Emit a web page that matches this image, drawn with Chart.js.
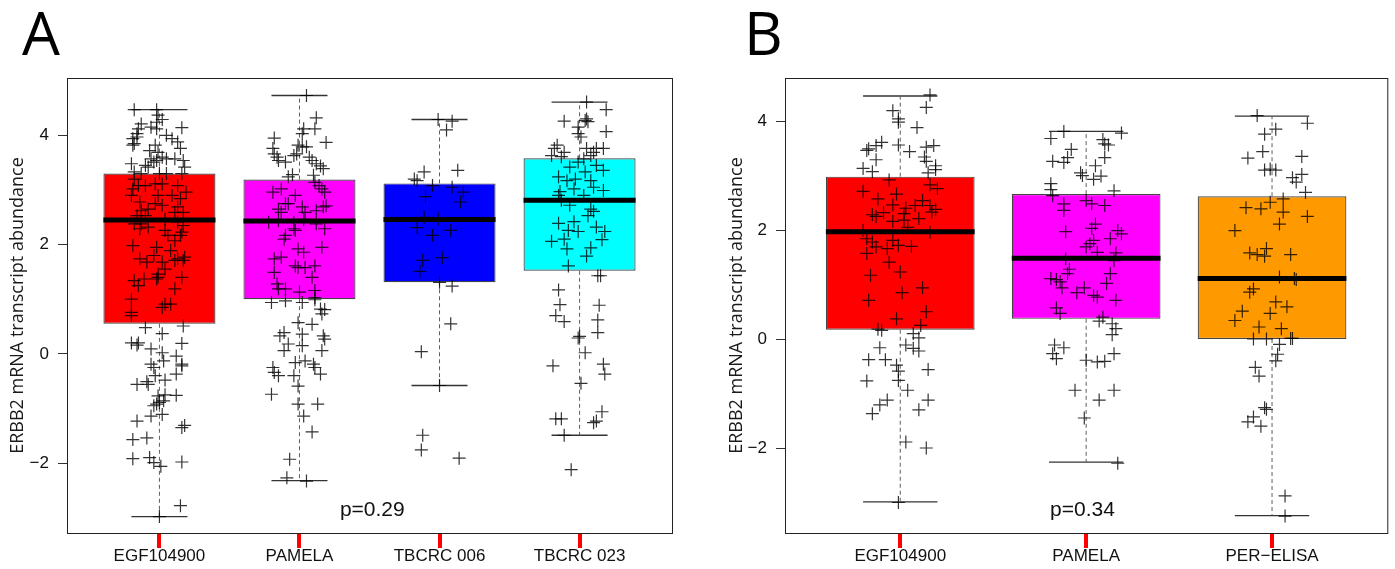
<!DOCTYPE html>
<html>
<head>
<meta charset="utf-8">
<title>ERBB2 boxplots</title>
<script src="https://cdn.jsdelivr.net/npm/chart.js@4.4.0/dist/chart.umd.min.js"></script>
<style>
  body { margin: 0; background: #fff; }
  #wrap { position: relative; width: 1395px; height: 569px; overflow: hidden; }
  #chartA { position: absolute; left: 0; top: 0; }
  #chartB { position: absolute; left: 700px; top: 0; }
</style>
</head>
<body>
<div id="wrap">
  <canvas id="chartA" width="700" height="569"></canvas>
  <canvas id="chartB" width="695" height="569"></canvas>
</div>
<script>
// ==== data ====
const catsA = ['EGF104900', 'PAMELA', 'TBCRC 006', 'TBCRC 023'];
const catsB = ['EGF104900', 'PAMELA', 'PER\u2212ELISA'];
const yTicks = [-2, 0, 2, 4];

// box stats (lower whisker, q1, median, q3, upper whisker)
const loA = [-2.98, -2.32, -0.58, -1.49];
const q1A = [0.55, 1.00, 1.31, 1.52];
const medA = [2.45, 2.43, 2.46, 2.81];
const q3A = [3.30, 3.19, 3.12, 3.58];
const hiA = [4.47, 4.73, 4.29, 4.61];

const loB = [-2.98, -2.25, -3.23];
const q1B = [0.18, 0.38, 0.01];
const medB = [1.98, 1.49, 1.12];
const q3B = [2.99, 2.67, 2.63];
const hiB = [4.47, 3.82, 4.10];

// jittered samples: [jitter, value]
const egfA = [
  [-0.18,4.47],[-0.02,4.47],[-0.01,4.37],[0.02,4.29],[-0.02,4.24],[-0.13,4.21],[-0.15,4.12],[-0.16,4.03],[-0.16,3.97],[-0.19,3.94],
  [-0.18,3.85],[-0.19,3.82],[-0.06,4.15],[-0.02,4.12],[0.16,4.14],[0.05,4.00],[0.09,3.94],[0.13,3.88],[0.15,3.76],[-0.03,3.82],
  [-0.07,3.72],[-0.01,3.69],[-0.20,3.48],[-0.06,3.57],[-0.04,3.51],[-0.02,3.54],[0.02,3.60],[0.05,3.57],[0.11,3.57],[-0.10,3.45],
  [-0.08,3.42],[0.17,3.54],[0.18,3.42],[0.16,3.30],[-0.18,3.33],[-0.13,3.30],[0.00,3.30],[0.05,3.30],
  [-0.18,3.20],[-0.15,3.08],[-0.19,3.02],[-0.20,2.90],[-0.10,3.08],[-0.03,3.11],[0.02,3.11],[0.13,3.08],[0.19,2.96],[0.09,2.90],
  [-0.01,2.90],[0.15,2.84],[-0.14,2.78],[-0.03,2.75],[0.02,2.72],[0.13,2.69],[-0.08,2.65],[-0.13,2.62],[0.17,2.59],[0.11,2.59],
  [-0.16,2.53],[-0.10,2.53],[0.04,2.47],[-0.18,2.38],[-0.13,2.38],[-0.14,2.29],[-0.08,2.32],[0.04,2.26],[0.13,2.41],[0.17,2.35],
  [0.15,2.17],[0.16,2.23],[0.11,2.07],[0.06,2.17],[-0.19,1.98],[-0.02,1.95],[0.08,1.89],[0.18,1.77],[0.17,1.71],[-0.14,1.74],
  [-0.09,1.68],[0.02,1.68],[0.11,1.71],[0.13,1.74],[0.04,1.55],[-0.01,1.46],[-0.04,1.80],[-0.18,1.34],[-0.11,1.37],[-0.15,1.25],
  [-0.02,1.37],[-0.01,1.40],[0.16,1.40],[0.11,1.19],[-0.20,1.00],[0.04,0.91],[0.08,0.91],[-0.20,0.76],
  [-0.20,0.70],[0.02,0.85],[-0.10,0.48],[0.17,0.51],[0.02,0.37],[-0.20,0.20],[-0.15,0.20],[-0.16,0.16],[-0.06,0.09],[0.16,0.19],
  [0.02,0.02],[0.12,-0.04],[0.03,-0.13],[-0.06,-0.19],[-0.04,-0.25],[0.16,-0.19],[0.16,-0.22],[0.12,-0.37],[-0.03,-0.40],[0.04,-0.48],
  [-0.16,-0.56],[-0.08,-0.56],[-0.09,-0.51],[0.12,-0.76],[-0.01,-0.77],[0.04,-0.75],[-0.04,-0.95],[-0.02,-0.92],[0.00,-0.89],[0.03,-0.86],
  [-0.06,-1.14],[0.02,-1.11],[-0.16,-1.23],[0.16,-1.35],[0.18,-1.31],[-0.19,-1.57],[-0.09,-1.54],[-0.19,-1.92],[-0.07,-1.90],[-0.04,-1.99],
  [0.01,-2.06],[0.16,-1.98],[0.15,-2.78],[0.00,-2.98]
];
const pamA = [
  [0.05,4.73],[0.12,4.32],[0.11,4.12],[0.03,4.12],[0.02,4.03],[-0.18,3.95],[0.19,3.87],[-0.01,3.82],[0.02,3.79],[0.05,3.79],
  [-0.19,3.76],[-0.18,3.66],[-0.16,3.60],[-0.15,3.54],[-0.10,3.51],[-0.04,3.63],[-0.02,3.66],[0.07,3.60],[0.09,3.54],[0.12,3.48],
  [0.15,3.44],[0.17,3.39],[-0.05,3.28],[-0.08,3.24],[0.10,3.27],[0.11,3.14],[0.14,3.08],[0.16,3.02],[0.18,2.96],[-0.19,2.96],
  [-0.13,3.02],[-0.03,2.90],[-0.10,2.75],[-0.08,2.75],[-0.15,2.65],[-0.13,2.59],[0.02,2.69],[0.04,2.59],[0.12,2.62],[0.17,2.69],
  [0.19,2.71],[-0.22,2.41],[-0.15,2.44],[-0.04,2.41],[0.03,2.46],[-0.03,2.26],[-0.10,2.17],[-0.11,2.10],[-0.04,2.29],[0.12,2.38],
  [0.18,2.29],[-0.01,1.92],[0.03,1.86],[0.16,1.95],[-0.13,1.77],[-0.18,1.74],[-0.03,1.61],[-0.01,1.58],[0.04,1.58],[0.11,1.61],
  [-0.18,1.49],[0.09,1.40],[-0.16,1.28],[-0.15,1.19],[-0.10,1.19],[0.00,1.13],[0.11,1.16],[0.11,1.03],[-0.20,0.94],[-0.10,0.97],
  [0.02,0.94],[0.11,0.99],[0.15,0.82],[0.18,0.81],[0.16,0.73],[-0.01,0.57],[0.09,0.54],[-0.11,0.39],[-0.14,0.33],[0.02,0.36],
  [0.17,0.33],[0.18,0.27],[-0.08,0.18],[-0.11,0.06],[0.02,0.15],[0.16,0.06],[-0.03,-0.16],[0.04,-0.13],[0.10,-0.19],[0.11,-0.25],
  [-0.19,-0.25],[-0.18,-0.34],[-0.15,-0.40],[-0.04,-0.40],[0.15,-0.37],[-0.01,-0.59],[-0.20,-0.74],[-0.01,-0.92],[0.13,-0.92],[0.03,-1.14],
  [0.09,-1.43],[-0.07,-1.93],[-0.09,-2.27],[0.05,-2.33]
];
const t006A = [
  [-0.01,4.29],[0.09,4.26],[0.05,4.10],[-0.11,3.33],[0.13,3.36],[-0.18,3.20],[-0.16,3.17],[-0.05,3.08],[0.09,3.05],[0.17,2.96],
  [-0.10,2.88],[0.15,2.78],[-0.11,2.50],[-0.01,2.47],[-0.16,2.31],[0.08,2.26],[-0.05,2.17],[0.02,1.76],[-0.12,1.71],[-0.14,1.51],
  [0.00,1.31],[0.09,1.24],[0.08,0.55],[-0.13,0.04],[0.00,-0.58],[-0.12,-1.49],[-0.13,-1.76],[0.14,-1.91]
];
const t023A = [
  [0.05,4.61],[0.19,4.47],[-0.11,4.26],[0.05,4.30],[0.04,4.27],[0.06,4.25],[-0.01,4.15],[0.19,4.07],[-0.01,4.03],[0.01,3.97],
  [-0.16,3.82],[-0.18,3.76],[-0.20,3.63],[-0.11,3.69],[-0.13,3.61],[0.05,3.76],[0.12,3.76],[0.17,3.76],[0.10,3.69],[0.08,3.63],
  [0.03,3.57],[-0.01,3.51],[-0.07,3.42],[0.12,3.45],[0.17,3.36],[-0.15,3.24],[-0.09,3.17],[-0.03,3.20],[0.04,3.33],[0.08,3.17],
  [-0.14,2.97],[-0.04,3.02],[0.10,3.05],[0.17,2.99],[-0.15,2.90],[-0.13,2.81],[-0.07,2.72],[0.03,2.90],[0.08,2.65],[0.10,2.61],
  [0.06,2.53],[-0.15,2.39],[-0.04,2.42],[0.12,2.32],[0.18,2.24],[-0.08,2.26],[-0.01,2.24],[-0.11,2.10],[-0.20,2.06],[0.16,2.09],
  [-0.09,1.92],[0.08,1.94],[0.05,1.79],[-0.08,1.61],[0.13,1.43],[0.15,1.43],[-0.15,1.17],[-0.14,0.90],[-0.17,0.70],[-0.11,0.59],
  [0.14,0.89],[0.13,0.62],[0.13,0.39],[-0.01,0.29],[0.00,0.32],[0.04,0.02],[-0.19,-0.22],[0.17,-0.19],[0.18,-0.37],[0.01,-0.54],
  [-0.17,-1.19],[-0.13,-1.19],[0.16,-1.06],[0.12,-1.23],[0.10,-1.26],[-0.11,-1.49],[-0.06,-2.12]
];

const egfB = [
  [0.16,4.49],[0.14,4.26],[-0.04,4.20],[-0.01,4.05],[-0.01,3.99],[0.09,3.89],[-0.10,3.62],[-0.13,3.56],[-0.17,3.50],[-0.18,3.47],
  [-0.01,3.57],[0.05,3.45],[0.14,3.53],[0.18,3.56],[-0.13,3.30],[0.13,3.35],[0.14,3.27],[-0.20,3.14],[-0.15,3.08],[0.19,3.19],
  [0.19,3.12],[0.15,3.06],[-0.06,2.93],[0.16,2.84],[0.20,2.77],[-0.20,2.72],[-0.02,2.67],[-0.12,2.58],[0.12,2.55],[-0.04,2.47],
  [0.03,2.41],[0.08,2.46],[0.16,2.46],[0.19,2.39],[0.17,2.34],[-0.09,2.33],[-0.15,2.29],[-0.13,2.26],[0.02,2.31],[0.10,2.22],
  [-0.04,2.17],[0.02,2.19],[0.04,2.06],[-0.20,2.00],[0.16,1.97],[-0.18,1.85],[-0.15,1.79],[-0.04,1.82],[-0.01,1.73],[-0.13,1.70],
  [0.06,1.71],[-0.07,1.67],[-0.18,1.58],[-0.06,1.42],[-0.16,1.18],[0.00,1.24],[0.12,0.95],[0.01,0.86],[-0.17,0.72],[0.14,0.51],
  [-0.02,0.38],[0.11,0.26],[-0.12,0.19],[-0.10,0.17],[0.07,0.11],[0.10,0.03],[0.03,-0.10],[0.07,-0.16],[0.10,-0.21],[-0.11,-0.15],
  [-0.17,-0.37],[-0.08,-0.37],[-0.02,-0.47],[-0.01,-0.58],[0.15,-0.55],[-0.18,-0.76],[-0.01,-0.75],[0.04,-0.93],[-0.07,-1.11],[-0.11,-1.20],
  [-0.15,-1.36],[0.15,-1.11],[0.10,-1.29],[0.03,-1.88],[0.14,-1.99],[-0.01,-2.99]
];
const pamB = [
  [-0.12,3.82],[0.19,3.79],[-0.19,3.69],[0.09,3.67],[0.10,3.59],[0.12,3.57],[-0.08,3.49],[-0.10,3.34],[-0.12,3.25],[-0.18,3.27],
  [0.10,3.34],[0.05,3.19],[-0.03,3.06],[-0.02,3.01],[0.04,2.94],[0.08,3.00],[-0.19,2.86],[-0.19,2.75],[-0.18,2.64],[0.15,2.73],
  [0.00,2.55],[0.03,2.49],[-0.12,2.49],[-0.12,2.37],[0.10,2.46],[0.05,2.12],[0.03,2.04],[-0.11,1.98],[0.17,2.00],[0.19,1.94],
  [0.13,1.85],[0.04,1.82],[0.02,1.76],[0.00,1.70],[0.06,1.60],[0.16,1.59],[-0.11,1.48],[0.15,1.45],[-0.09,1.29],[-0.10,1.21],
  [0.13,1.21],[0.11,1.03],[-0.19,1.12],[-0.16,1.10],[-0.14,1.06],[-0.13,0.95],[-0.01,0.95],[-0.05,0.86],[0.04,0.81],[0.06,0.78],
  [0.16,0.72],[-0.16,0.58],[-0.14,0.48],[0.09,0.41],[0.07,0.34],[0.14,0.29],[0.16,0.20],[0.14,0.09],[-0.17,-0.10],[-0.12,-0.15],
  [-0.18,-0.26],[-0.16,-0.35],[0.15,-0.26],[0.00,-0.38],[0.06,-0.41],[0.10,-0.40],[-0.06,-0.93],[0.15,-0.93],[0.07,-1.11],[-0.01,-1.44],
  [0.17,-2.27]
];
const perB = [
  [-0.08,4.11],[0.19,3.97],[0.02,3.86],[-0.04,3.77],[-0.05,3.45],[-0.13,3.33],[0.16,3.36],[-0.04,3.11],[-0.01,3.13],[0.02,3.11],
  [0.11,2.97],[0.13,2.89],[0.16,3.03],[0.18,2.70],[0.06,2.58],[-0.01,2.52],[-0.14,2.42],[-0.06,2.40],[0.06,2.34],[0.19,2.26],
  [0.04,2.12],[-0.20,2.00],[-0.03,1.67],[-0.12,1.59],[-0.08,1.56],[-0.04,1.53],[0.10,1.56],[0.04,1.15],[0.12,1.12],[0.13,1.10],
  [-0.10,0.93],[-0.12,0.87],[0.02,0.69],[0.08,0.60],[-0.16,0.52],[-0.01,0.48],[-0.20,0.35],[-0.07,0.23],[0.05,0.20],[-0.10,0.01],
  [-0.03,0.01],[0.10,0.02],[0.11,0.02],[0.04,-0.09],[0.03,-0.27],[0.02,-0.39],[-0.09,-0.51],[-0.07,-0.67],[-0.04,-1.25],[-0.03,-1.28],
  [-0.10,-1.42],[-0.13,-1.51],[-0.06,-1.59],[0.07,-2.87],[0.07,-3.24]
];

// ==== helpers ====
const fillA = ['#FF0000', '#FF00FF', '#0000FF', '#00FFFF'];
const fillB = ['#FF0000', '#FF00FF', '#FF9900'];

function segment(p1, p2, color, width, dash, order) {
    return {
        type: 'scatter',
        showLine: true,
        data: [{ x: p1[0], y: p1[1] }, { x: p2[0], y: p2[1] }],
        borderColor: color,
        borderWidth: width,
        borderDash: dash,
        borderCapStyle: 'butt',
        pointRadius: 0,
        order: order
    };
}

function buildDatasets(cats, lo, q1, med, q3, hi, groups, fills) {
    const sets = [];

    cats.forEach((c, i) => {
        const x = i + 1;
        // dashed whiskers + caps
        sets.push(segment([x, q3[i]], [x, hi[i]], '#5e5e5e', 1, [4, 3], 4));
        sets.push(segment([x, q1[i]], [x, lo[i]], '#5e5e5e', 1, [4, 3], 4));
        sets.push(segment([x - 0.2, hi[i]], [x + 0.2, hi[i]], '#333', 1.3, [], 4));
        sets.push(segment([x - 0.2, lo[i]], [x + 0.2, lo[i]], '#333', 1.3, [], 4));
        // median
        sets.push(segment([x - 0.4, med[i]], [x + 0.4, med[i]], '#000', 5, [], 1));
    });

    sets.push({
        type: 'bar',
        data: cats.map((c, i) => ({ x: i + 1, y: [q1[i], q3[i]] })),
        backgroundColor: fills,
        borderColor: '#444',
        borderWidth: 1.2,
        borderSkipped: false,
        barPercentage: 0.8,
        categoryPercentage: 1,
        order: 3
    });

    const pts = [];
    groups.forEach((g, i) => {
        g.forEach(p => pts.push({ x: i + 1 + p[0], y: p[1] }));
    });
    sets.push({
        type: 'scatter',
        data: pts,
        pointStyle: 'cross',
        pointRadius: 6.5,
        borderColor: 'rgba(0,0,0,0.8)',
        pointBorderColor: 'rgba(0,0,0,0.8)',
        pointBorderWidth: 1.2,
        order: 0
    });
    return sets;
}

const panelText = {
    id: 'panelText',
    afterDraw(chart, args, opts) {
        const ctx = chart.ctx;
        const area = chart.chartArea;
        const xs = chart.scales.x;
        const ys = chart.scales.y;

        ctx.save();
        ctx.setLineDash([]);
        // frame
        ctx.strokeStyle = '#222';
        ctx.lineWidth = 1;
        ctx.strokeRect(area.left + 0.5, area.top + 0.5, area.right - area.left, area.bottom - area.top);

        // x tick marks under each box, taken from the bar dataset
        const boxes = chart.data.datasets.find(d => d.type === 'bar');
        ctx.fillStyle = '#ff0000';
        boxes.data.forEach(d => {
            const px = Math.round(xs.getPixelForValue(d.x));
            ctx.fillRect(px - 2, area.bottom + 1, 4, 14);
        });

        // panel letter
        ctx.fillStyle = '#000';
        ctx.font = '60px "Open Sans"';
        ctx.textAlign = 'left';
        ctx.textBaseline = 'alphabetic';
        ctx.fillText(opts.letter, opts.letterX, 55);

        // p value
        ctx.fillStyle = '#111';
        ctx.font = '21px "Liberation Sans"';
        ctx.textAlign = 'center';
        ctx.textBaseline = 'middle';
        ctx.fillText(opts.pText, xs.getPixelForValue(opts.pX), ys.getPixelForValue(opts.pY));

        // y axis title
        ctx.translate(opts.titleX, (area.top + area.bottom) / 2);
        ctx.rotate(-Math.PI / 2);
        ctx.font = '18px "Open Sans"';
        ctx.fillStyle = '#1a1a1a';
        ctx.fillText('ERBB2 mRNA transcript abundance', 0, 0);
        ctx.restore();
    }
};

function makeChart(id, o) {
    const tickFont = { family: 'Liberation Sans', size: 17 };
    return new Chart(document.getElementById(id), {
        type: 'bar',
        data: { datasets: buildDatasets(o.cats, o.lo, o.q1, o.med, o.q3, o.hi, o.groups, o.fills) },
        options: {
            responsive: false,
            animation: false,
            events: [],
            layout: { padding: { top: 78, right: o.padRight, left: 0, bottom: 0 } },
            plugins: {
                legend: { display: false },
                tooltip: { enabled: false },
                panelText: o.text
            },
            scales: {
                x: {
                    type: 'linear',
                    min: 0.5 - o.cats.length * 0.04,
                    max: o.cats.length + 0.5 + o.cats.length * 0.04,
                    offset: false,
                    border: { display: false },
                    grid: { display: false, tickLength: 9 },
                    ticks: {
                        font: tickFont, color: '#111', padding: 4,
                        autoSkip: false, maxRotation: 0,
                        callback: (v, i) => o.cats[i]
                    },
                    afterBuildTicks: s => { s.ticks = o.cats.map((c, i) => ({ value: i + 1 })); },
                    afterFit: s => { s.height = 36; }
                },
                y: {
                    min: o.yMin,
                    max: o.yMax,
                    border: { display: false },
                    grid: { offset: false, drawOnChartArea: false, drawTicks: true, tickLength: 9, color: '#333' },
                    ticks: {
                        font: tickFont, color: '#111', padding: 9,
                        callback: v => (v < 0 ? '\u2212' + Math.abs(v) : String(v))
                    },
                    afterBuildTicks: s => { s.ticks = yTicks.map(v => ({ value: v })); },
                    afterFit: s => { s.width = o.axisW; }
                }
            }
        },
        plugins: [panelText]
    });
}

makeChart('chartA', {
    cats: catsA, lo: loA, q1: q1A, med: medA, q3: q3A, hi: hiA,
    groups: [egfA, pamA, t006A, t023A], fills: fillA,
    yMin: -3.28, yMax: 5.05, axisW: 67, padRight: 28,
    text: { letter: 'A', letterX: 22, pText: 'p=0.29', pX: 2.52, pY: -2.86, titleX: 18 }
});

makeChart('chartB', {
    cats: catsB, lo: loB, q1: q1B, med: medB, q3: q3B, hi: hiB,
    groups: [egfB, pamB, perB], fills: fillB,
    yMin: -3.55, yMax: 4.80, axisW: 85, padRight: 4,
    text: { letter: 'B', letterX: 44, pText: 'p=0.34', pX: 1.98, pY: -3.13, titleX: 37 }
});
</script>
</body>
</html>
